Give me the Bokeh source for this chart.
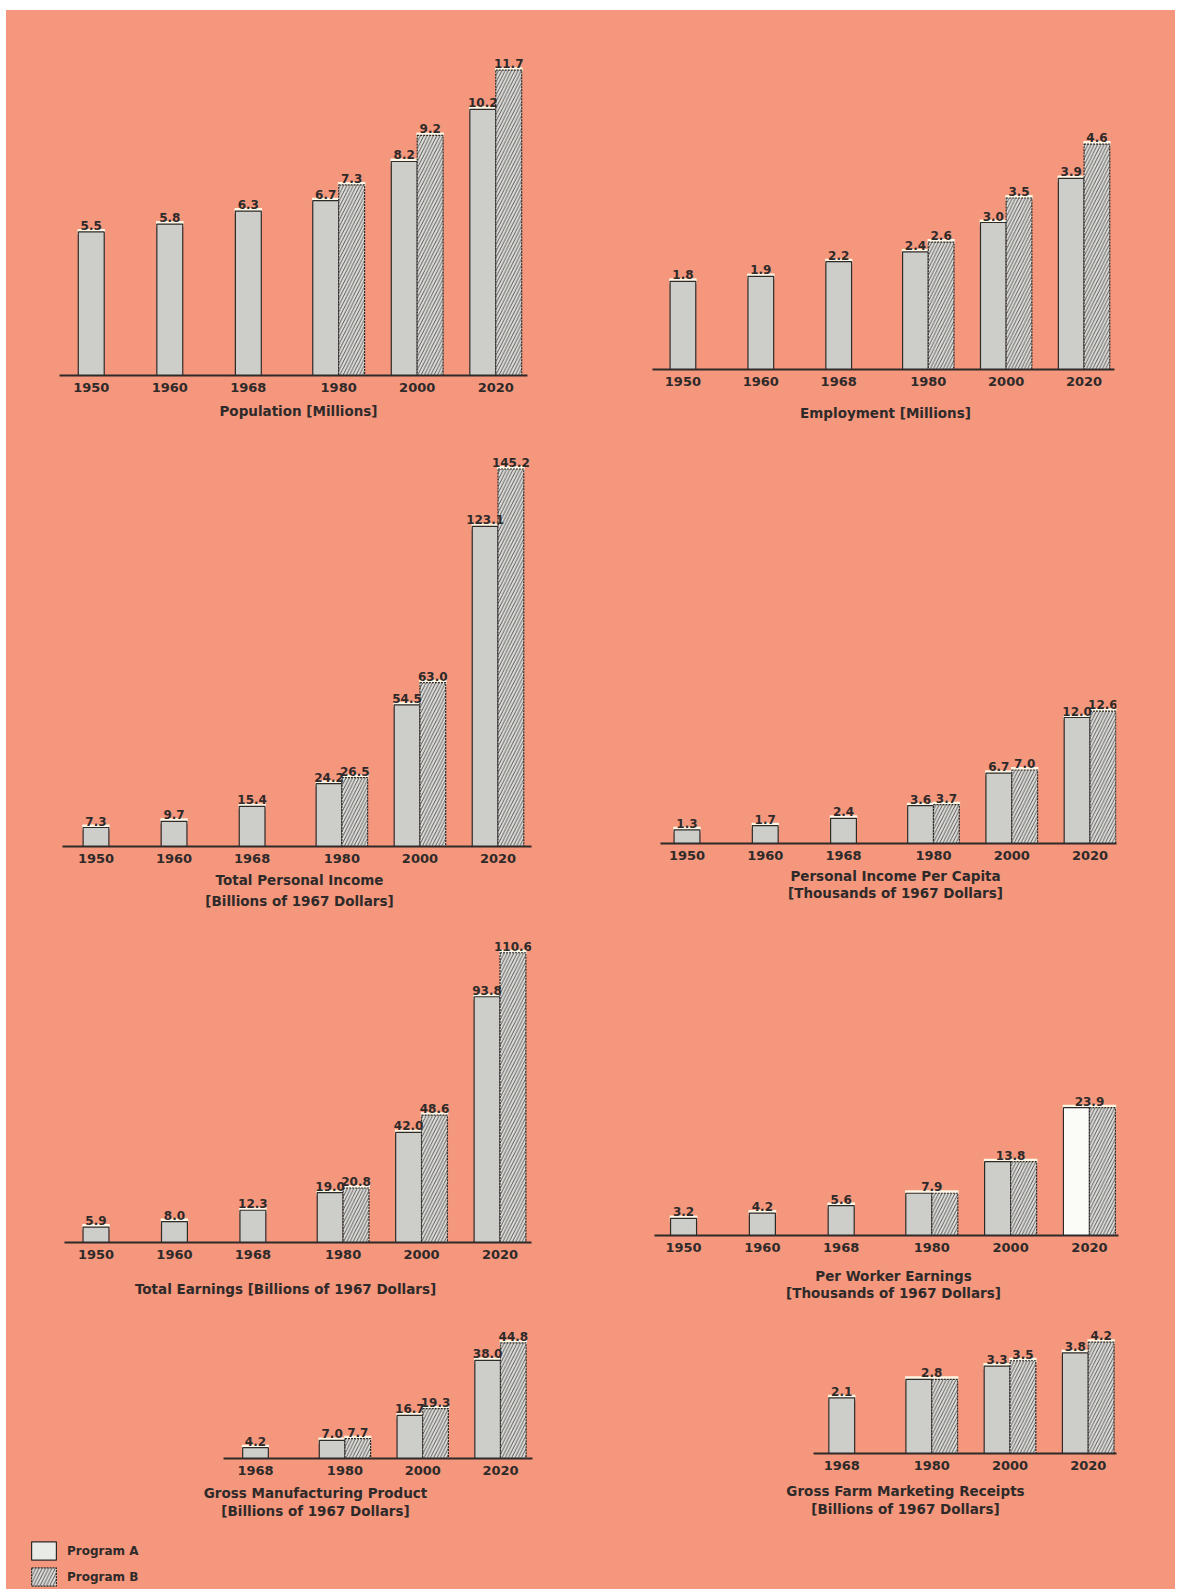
from bokeh.plotting import figure
from bokeh.models import FactorRange, Range1d, ColumnDataSource, Label, Legend, LegendItem, Spacer
from bokeh.layouts import row, column
from bokeh.transform import dodge
from bokeh.core.properties import value
from bokeh.embed import file_html
from bokeh.resources import INLINE

# ---------------- data ----------------
HIST_YEARS = ["1950", "1960", "1968"]
HIST_YEARS_SHORT = ["1968"]
PROJ_YEARS = ["1980", "2000", "2020"]

pop_hist = [5.5, 5.8, 6.3]
pop_a = [6.7, 8.2, 10.2]
pop_b = [7.3, 9.2, 11.7]

emp_hist = [1.8, 1.9, 2.2]
emp_a = [2.4, 3.0, 3.9]
emp_b = [2.6, 3.5, 4.6]

tpi_hist = [7.3, 9.7, 15.4]
tpi_a = [24.2, 54.5, 123.1]
tpi_b = [26.5, 63.0, 145.2]

pc_hist = [1.3, 1.7, 2.4]
pc_a = [3.6, 6.7, 12.0]
pc_b = [3.7, 7.0, 12.6]

te_hist = [5.9, 8.0, 12.3]
te_a = [19.0, 42.0, 93.8]
te_b = [20.8, 48.6, 110.6]

pw_hist = [3.2, 4.2, 5.6]
pw_a = [7.9, 13.8, 23.9]
pw_b = [7.9, 13.8, 23.9]

gmp_hist = [4.2]
gmp_a = [7.0, 16.7, 38.0]
gmp_b = [7.7, 19.3, 44.8]

farm_hist = [2.1]
farm_a = [2.8, 3.3, 3.8]
farm_b = [2.8, 3.5, 4.2]

pop_title = ["Population [Millions]"]
emp_title = ["Employment [Millions]"]
tpi_title = ["Total Personal Income", "[Billions of 1967 Dollars]"]
pc_title = ["Personal Income Per Capita", "[Thousands of 1967 Dollars]"]
te_title = ["Total Earnings [Billions of 1967 Dollars]"]
pw_title = ["Per Worker Earnings", "[Thousands of 1967 Dollars]"]
gmp_title = ["Gross Manufacturing Product", "[Billions of 1967 Dollars]"]
farm_title = ["Gross Farm Marketing Receipts", "[Billions of 1967 Dollars]"]

legend_labels = ["Program A", "Program B"]

# ---------------- style ----------------
SALMON = "#f4977c"
DARK = "#2f2a2a"
A_FILL = "#cdcec9"
A_LIGHT = "#fbfbf8"
B_FILL = "#dddeda"
HATCH = "#4a4646"
BAND = "#fff6e4"
FONT = "DejaVu Sans"
BW = 0.33
GROUP_PAD = 0.15
AXIS_H = 22

# geometry (page px): box=(x0, y0, w, h); centers=(first group centre, last group centre);
# ends=(baseline left, baseline right); top = frame top; base = baseline y;
# ppu = px per unit; cx/ty = title centre x and line y's
charts = [
    dict(hist_years=HIST_YEARS, hist=pop_hist, a=pop_a, b=pop_b, title=pop_title,
         box=(6, 10, 584, 415), centers=(90.5, 495), ends=(65, 533), top=40, base=375,
         ppu=26.1, cx=298, ty=[410]),
    dict(hist_years=HIST_YEARS, hist=emp_hist, a=emp_a, b=emp_b, title=emp_title,
         box=(590, 10, 585, 415), centers=(682, 1084), ends=(657, 1120), top=40, base=369,
         ppu=49.0, cx=885, ty=[412]),
    dict(hist_years=HIST_YEARS, hist=tpi_hist, a=tpi_a, b=tpi_b, title=tpi_title,
         box=(6, 425, 584, 485), centers=(95.5, 497.5), ends=(68, 537), top=450, base=846,
         ppu=2.6, cx=299, ty=[879, 900]),
    dict(hist_years=HIST_YEARS, hist=pc_hist, a=pc_a, b=pc_b, title=pc_title,
         box=(590, 425, 585, 485), centers=(686, 1089), ends=(662, 1118), top=450, base=843,
         ppu=10.5, cx=895, ty=[875, 892]),
    dict(hist_years=HIST_YEARS, hist=te_hist, a=te_a, b=te_b, title=te_title,
         box=(6, 910, 584, 390), centers=(95.5, 499.5), ends=(68, 535), top=935, base=1242,
         ppu=2.62, cx=285, ty=[1288]),
    dict(hist_years=HIST_YEARS, hist=pw_hist, a=pw_a, b=pw_b, title=pw_title,
         box=(590, 910, 585, 390), centers=(683.5, 1088.5), ends=(657, 1120), top=935, base=1235,
         ppu=5.35, cx=893, ty=[1275, 1292], a_fill=[A_FILL, A_FILL, A_LIGHT]),
    dict(hist_years=HIST_YEARS_SHORT, hist=gmp_hist, a=gmp_a, b=gmp_b, title=gmp_title,
         box=(6, 1300, 584, 230), centers=(255, 500), ends=(230, 539), top=1320, base=1458,
         ppu=2.58, cx=315, ty=[1492, 1510]),
    dict(hist_years=HIST_YEARS_SHORT, hist=farm_hist, a=farm_a, b=farm_b, title=farm_title,
         box=(590, 1300, 585, 230), centers=(841.5, 1088), ends=(815, 1118), top=1320, base=1453,
         ppu=26.5, cx=905, ty=[1490, 1508]),
]


def fmt(v):
    return f"{v:.1f}"


def build_chart(c, height):
    x0, y0, w, h = c["box"]
    cf, cl = c["centers"]
    bl, br = c["ends"]
    top, base = c["top"], c["base"]
    hist_x = [("H", y) for y in c["hist_years"]]
    proj_x = [("P", y) for y in PROJ_YEARS]
    n = len(hist_x) + len(proj_x)
    ext = ((cf - bl) + (br - cl)) / 2.0
    L, R = cf - ext, cl + ext
    s = (cl - cf) / (n - 1 + GROUP_PAD)
    total = n + GROUP_PAD
    rp = (R - L) / (s * total) - 1.0
    L, R = int(round(L)), int(round(R))
    xr = FactorRange(factors=hist_x + proj_x, factor_padding=0.0, group_padding=GROUP_PAD,
                     range_padding=rp, range_padding_units="percent")
    yr = Range1d(0, (base - top) / c["ppu"])
    p = figure(width=w, height=height, x_range=xr, y_range=yr, output_backend="svg",
               toolbar_location=None, title=None, y_axis_location=None,
               min_border_left=L - x0, min_border_right=x0 + w - R,
               min_border_top=top - y0, min_border_bottom=AXIS_H,
               background_fill_color=SALMON, border_fill_color=SALMON,
               outline_line_color=None)
    p.grid.visible = False

    a_fill = c.get("a_fill", [A_FILL] * len(PROJ_YEARS))
    hist_src = ColumnDataSource(dict(x=hist_x, top=c["hist"]))
    a_src = ColumnDataSource(dict(x=proj_x, top=c["a"], fill=a_fill))
    b_src = ColumnDataSource(dict(x=proj_x, top=c["b"]))

    # light highlight band on top of every bar
    for src, off in ((hist_src, 0.0), (a_src, -BW / 2), (b_src, BW / 2)):
        p.rect(x=dodge("x", off, range=xr), y="top", width=BW + 0.02, height=6,
               height_units="screen", fill_color=BAND, line_color=None, source=src)

    p.vbar(x="x", top="top", width=BW, source=hist_src, fill_color=A_FILL,
           line_color=DARK, line_width=1.2)
    p.vbar(x=dodge("x", -BW / 2, range=xr), top="top", width=BW, source=a_src,
           fill_color="fill", line_color=DARK, line_width=1.2)
    p.vbar(x=dodge("x", BW / 2, range=xr), top="top", width=BW, source=b_src,
           fill_color=B_FILL, hatch_pattern="/", hatch_color=HATCH, hatch_scale=6.5,
           hatch_weight=0.9, line_color=DARK, line_width=1.2, line_dash="2 1")

    # value labels
    cx_, cy_, ct_ = list(hist_x), list(c["hist"]), [fmt(v) for v in c["hist"]]
    ax_, ay_, at_, bx_, by_, bt_ = [], [], [], [], [], []
    for fx, va, vb in zip(proj_x, c["a"], c["b"]):
        if va == vb:
            cx_.append(fx); cy_.append(va); ct_.append(fmt(va))
        else:
            ax_.append(fx); ay_.append(va); at_.append(fmt(va))
            bx_.append(fx); by_.append(vb); bt_.append(fmt(vb))
    lab_kw = dict(text_align="center", text_baseline="bottom", y_offset=-2,
                  text_font=value(FONT), text_font_style="bold", text_font_size="12px",
                  text_color=DARK)
    p.text(x="x", y="y", text="t", source=ColumnDataSource(dict(x=cx_, y=cy_, t=ct_)), **lab_kw)
    if ax_:
        p.text(x=dodge("x", -BW / 2, range=xr), y="y", text="t",
               source=ColumnDataSource(dict(x=ax_, y=ay_, t=at_)), **lab_kw)
        p.text(x=dodge("x", BW / 2, range=xr), y="y", text="t",
               source=ColumnDataSource(dict(x=bx_, y=by_, t=bt_)), **lab_kw)

    ax = p.xaxis[0]
    ax.axis_line_color = DARK
    ax.axis_line_width = 2
    ax.major_tick_line_color = None
    ax.minor_tick_line_color = None
    ax.major_label_text_font = FONT
    ax.major_label_text_font_style = "bold"
    ax.major_label_text_font_size = "13px"
    ax.major_label_text_color = DARK
    ax.major_label_standoff = 1
    ax.group_text_font_size = "0px"
    ax.group_text_color = None
    ax.separator_line_color = None
    return p


def build_titles(c, y_start):
    x0, y0, w, h = c["box"]
    th = y0 + h - y_start
    tf = figure(width=w, height=th, x_range=Range1d(0, 1), y_range=Range1d(0, 1),
                output_backend="svg", toolbar_location=None, title=None,
                x_axis_location=None, y_axis_location=None,
                min_border_left=0, min_border_right=0, min_border_top=0, min_border_bottom=0,
                background_fill_color=SALMON, border_fill_color=SALMON, outline_line_color=None)
    tf.grid.visible = False
    for line, ty in zip(c["title"], c["ty"]):
        tf.add_layout(Label(x=c["cx"] - x0, y=(y0 + h) - ty, x_units="screen", y_units="screen",
                            text=line, text_align="center", text_baseline="middle",
                            text_font=FONT, text_font_style="bold", text_font_size="13.5px",
                            text_color=DARK))
    return tf


def build_cell(c):
    x0, y0, w, h = c["box"]
    hc = c["base"] + AXIS_H - y0
    chart = build_chart(c, hc)
    titles = build_titles(c, y0 + hc)
    return column(column(chart), column(titles))


cells = [build_cell(c) for c in charts]

# legend
lf = figure(width=300, height=59, x_range=Range1d(0, 1), y_range=Range1d(0, 1),
            output_backend="svg", toolbar_location=None, title=None,
            x_axis_location=None, y_axis_location=None,
            min_border_left=22, min_border_top=9, min_border_right=0, min_border_bottom=0,
            background_fill_color=SALMON, border_fill_color=SALMON, outline_line_color=None)
lf.grid.visible = False
off_a = ColumnDataSource(dict(x=[-5.0], top=[-5.0]))
off_b = ColumnDataSource(dict(x=[-5.0], top=[-5.0]))
ra = lf.vbar(x="x", top="top", width=0.1, source=off_a, fill_color="#e8ebe6",
             line_color=DARK, line_width=1.2)
rb = lf.vbar(x="x", top="top", width=0.1, source=off_b, fill_color=B_FILL,
             hatch_pattern="/", hatch_color=HATCH, hatch_scale=6.5, hatch_weight=0.9,
             line_color=DARK, line_width=1.2, line_dash="2 1")
leg = Legend(items=[LegendItem(label=legend_labels[0], renderers=[ra]),
                    LegendItem(label=legend_labels[1], renderers=[rb])],
             location="top_left", glyph_width=31, glyph_height=23, label_height=23,
             spacing=3, padding=0, margin=0, label_standoff=8,
             border_line_color=None, background_fill_alpha=0,
             label_text_font=FONT, label_text_font_style="bold",
             label_text_font_size="12px", label_text_color=DARK)
lf.add_layout(leg)

content = column(
    row(cells[0], cells[1]),
    row(cells[2], cells[3]),
    row(cells[4], cells[5]),
    row(cells[6], cells[7]),
    row(lf),
    styles={"background-color": SALMON},
)
page = column(Spacer(width=1182, height=10), row(Spacer(width=6, height=1579), content))

open("out.html", "w").write(file_html(page, INLINE))
